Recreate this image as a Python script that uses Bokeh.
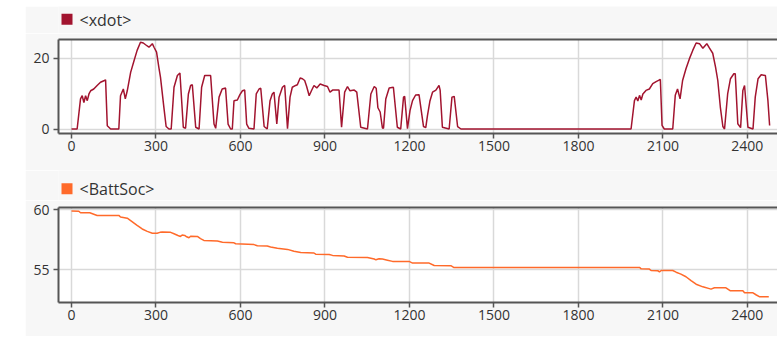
from bokeh.plotting import figure
from bokeh.layouts import column, row
from bokeh.models import Range1d, LinearAxis, FixedTicker, Spacer
from bokeh.core.properties import value
from bokeh.embed import file_html
from bokeh.resources import INLINE

# ---- data ----
xdot_t = [0, 20, 32, 38, 44, 50, 56, 62, 68, 79, 91, 103, 117, 121, 127, 139, 168, 174, 184, 191, 198,
          210, 222, 233, 245, 255, 263, 275, 287, 293, 302, 310, 316, 328, 336, 346, 354, 364, 376, 385,
          397, 405, 415, 423, 429, 441, 453, 462, 473, 494, 506, 512, 524, 535, 547, 556, 565, 571, 577,
          589, 598, 607, 615, 622, 630, 648, 656, 666, 672, 684, 695, 705, 713, 719, 729, 737, 749, 757,
          767, 776, 784, 796, 802, 812, 820, 828, 835, 844, 852, 861, 871, 883, 897, 909, 918, 927, 950,
          959, 970, 980, 989, 1004, 1013, 1027, 1051, 1063, 1075, 1082, 1088, 1096, 1104, 1108, 1116,
          1128, 1143, 1157, 1169, 1179, 1183, 1193, 1202, 1211, 1222, 1234, 1250, 1258, 1264, 1273, 1282,
          1294, 1305, 1309, 1317, 1341, 1351, 1359, 1371, 1383, 1987, 1999, 2005, 2011, 2017, 2023, 2029,
          2040, 2052, 2064, 2076, 2088, 2091, 2097, 2105, 2135, 2144, 2152, 2161, 2170, 2182, 2194, 2206,
          2218, 2230, 2242, 2256, 2265, 2277, 2287, 2295, 2304, 2313, 2319, 2330, 2340, 2352, 2357, 2366,
          2376, 2384, 2390, 2402, 2420, 2428, 2438, 2449, 2464, 2473, 2479]
xdot_v = [0, 0, 8.5, 9.4, 7.5, 9.4, 8.0, 9.9, 10.8, 11.3, 12.3, 13.2, 13.7, 13.9, 0.9, 0, 0, 9.4, 11.3, 8.5, 10.8,
          16.0, 19.3, 22.2, 24.5, 24.3, 23.8, 23.1, 24.1, 23.1, 21.7, 17.5, 14.6, 6.1, 0.7, 0, 0, 11.8, 15.1, 15.8,
          0.5, 0.2, 9.9, 12.3, 12.5, 0.5, 0, 11.8, 15.1, 15.1, 1.4, 0.2, 9.0, 11.3, 11.6, 1.4, 0, 0, 8.0,
          8.2, 9.7, 10.8, 11.0, 1.4, 0.2, 0, 9.9, 11.3, 11.5, 0.7, 0, 8.0, 9.9, 10.4, 1.4, 9.0, 11.8, 12.3,
          0.1, 9.0, 11.8, 12.3, 12.5, 14.4, 14.2, 13.7, 12.0, 9.4, 10.8, 12.3, 11.6, 12.7, 12.3, 12.0, 10.4, 11.0, 11.0,
          0.5, 10.4, 12.0, 10.8, 11.0, 10.4, 0.5, 0, 9.9, 12.0, 11.5, 6.0, 4.8, 0.3, 0.2, 8.5,
          11.6, 11.8, 0.5, 0, 9.0, 9.2, 0.1, 5.2, 8.0, 9.6, 9.7, 0.7, 0.4, 3.8, 8.0, 10.4,
          11.0, 12.3, 11.0, 0.5, 0, 9.0, 9.2, 0.7, 0, 0, 8.0, 9.0, 7.9, 9.5, 8.2, 9.9,
          10.9, 11.3, 12.8, 13.4, 13.9, 14.0, 1.0, 0, 0, 9.5, 11.3, 8.5, 13.7, 17.0, 19.8, 22.2,
          24.3, 24.1, 22.8, 24.1, 22.9, 21.4, 17.5, 13.7, 6.2, 0.7, 0, 9.9, 14.2, 15.6, 15.6, 1.5,
          0.4, 10.9, 12.3, 0.5, 0, 9.0, 14.2, 15.3, 15.1, 8.0, 1.0]

soc_t = [0, 26, 32, 65, 91, 168, 174, 198, 210, 233, 251, 269, 287, 304, 314, 322, 352, 364, 378, 387,
         393, 402, 409, 417, 423, 447, 458, 470, 518, 536, 577, 583, 648, 660, 695, 707, 731, 767, 790,
         814, 861, 867, 915, 927, 968, 980, 1051, 1075, 1081, 1092, 1104, 1122, 1140, 1199, 1211, 1270,
         1288, 1347, 1357, 2017, 2023, 2052, 2058, 2082, 2088, 2094, 2135, 2147, 2164, 2182, 2200, 2218,
         2242, 2271, 2283, 2324, 2340, 2384, 2390, 2420, 2432, 2444, 2476]
soc_v = [59.9, 59.88, 59.75, 59.75, 59.53, 59.53, 59.4, 59.3, 59.1, 58.7, 58.4, 58.2, 58.05, 58.05, 58.12,
         58.15, 58.12, 58.0, 57.86, 57.78, 57.9, 57.86, 57.75, 57.67, 57.8, 57.78, 57.6, 57.45, 57.4, 57.3,
         57.25, 57.17, 57.1, 57.0, 56.98, 56.9, 56.8, 56.7, 56.55, 56.45, 56.4, 56.3, 56.28, 56.2, 56.15,
         56.05, 56.02, 55.9, 55.83, 55.92, 55.9, 55.8, 55.7, 55.7, 55.56, 55.56, 55.36, 55.34, 55.2, 55.2,
         55.08, 55.06, 54.94, 54.92, 54.83, 54.94, 54.94, 54.8, 54.64, 54.42, 54.1, 53.8, 53.58, 53.39,
         53.5, 53.5, 53.25, 53.25, 53.08, 53.08, 52.9, 52.75, 52.75]

x_ticks = [0, 300, 600, 900, 1200, 1500, 1800, 2100, 2400]
xdot_ticks = [0, 20]
soc_ticks = [55, 60]

series_names = ["<xdot>", "<BattSoc>"]
series_colors = ["#a2142f", "#ff6a2a"]

BG = "#f7f7f7"
AXC = "#555555"
GRID = "#d9d9d9"
TXT = "#333333"
FONT = "Open Sans"
W = 752
LB = 33  # left border (frame starts here)


def make_header(height, name, color, sq_top):
    # strip above a panel carrying the legend key, in pixel space of its frame
    fw = W - LB
    h = figure(width=W, height=height, output_backend="svg", toolbar_location=None,
               x_range=Range1d(0, fw), y_range=Range1d(height, 0),
               x_axis_type=None, y_axis_type=None,
               min_border_left=LB, min_border_right=0, min_border_top=0, min_border_bottom=0,
               background_fill_color=BG, border_fill_color=BG, outline_line_color=None)
    h.xgrid.visible = False
    h.ygrid.visible = False
    h.quad(left=[3], right=[14], top=[sq_top], bottom=[sq_top + 11],
           fill_color=color, line_color=None)
    h.text(x=[21], y=[sq_top + 5.8], text=[name], text_font=value(FONT), text_font_size="16px",
           text_color=TXT, text_baseline="middle", text_align="left")
    return h


def make_panel(height, border_top, border_bottom, y0, y1, yticks, t, v, color):
    p = figure(width=W, height=height, output_backend="svg", toolbar_location=None,
               x_range=Range1d(-46.2, 2507), y_range=Range1d(y0, y1),
               min_border_left=LB, min_border_right=0,
               min_border_top=border_top, min_border_bottom=border_bottom,
               background_fill_color="white", border_fill_color=BG,
               outline_line_color=None)
    for ax, ticks in ((p.xaxis[0], x_ticks), (p.yaxis[0], yticks)):
        ax.ticker = FixedTicker(ticks=ticks)
        ax.axis_line_color = AXC
        ax.axis_line_width = 2
        ax.major_tick_line_color = AXC
        ax.major_tick_line_width = 1.5
        ax.major_tick_out = 5
        ax.major_tick_in = 0
        ax.minor_tick_line_color = None
        ax.major_label_text_font = FONT
        ax.major_label_text_font_size = "14px"
        ax.major_label_text_color = TXT
    p.xaxis[0].major_label_standoff = 2
    p.yaxis[0].major_label_standoff = 4
    top = LinearAxis(ticker=FixedTicker(ticks=[]), axis_line_color=AXC, axis_line_width=2,
                     major_tick_line_color=None, minor_tick_line_color=None,
                     major_tick_out=0, major_tick_in=0, major_label_standoff=0,
                     major_label_text_font_size="0px")
    p.add_layout(top, "above")
    p.xgrid.ticker = FixedTicker(ticks=x_ticks)
    p.ygrid.ticker = FixedTicker(ticks=yticks)
    p.xgrid.grid_line_color = GRID
    p.ygrid.grid_line_color = GRID
    p.xgrid.grid_line_width = 1.5
    p.ygrid.grid_line_width = 1.5
    p.line(t, v, line_color=color, line_width=1.5)
    return p


h1 = make_header(27, series_names[0], series_colors[0], 7.3)
p1 = make_panel(137, 6, 37, -1.27, 25.28, xdot_ticks, xdot_t, xdot_v, series_colors[0])
h2 = make_header(30, series_names[1], series_colors[1], 12.7)
p2 = make_panel(136, 7, 34, 52.275, 60.19, soc_ticks, soc_t, soc_v, series_colors[1])

layout = row(Spacer(width=25, height=336),
             column(Spacer(width=W, height=6), h1, p1, h2, p2, spacing=0),
             spacing=0)

open("out.html", "w").write(file_html(layout, INLINE))
